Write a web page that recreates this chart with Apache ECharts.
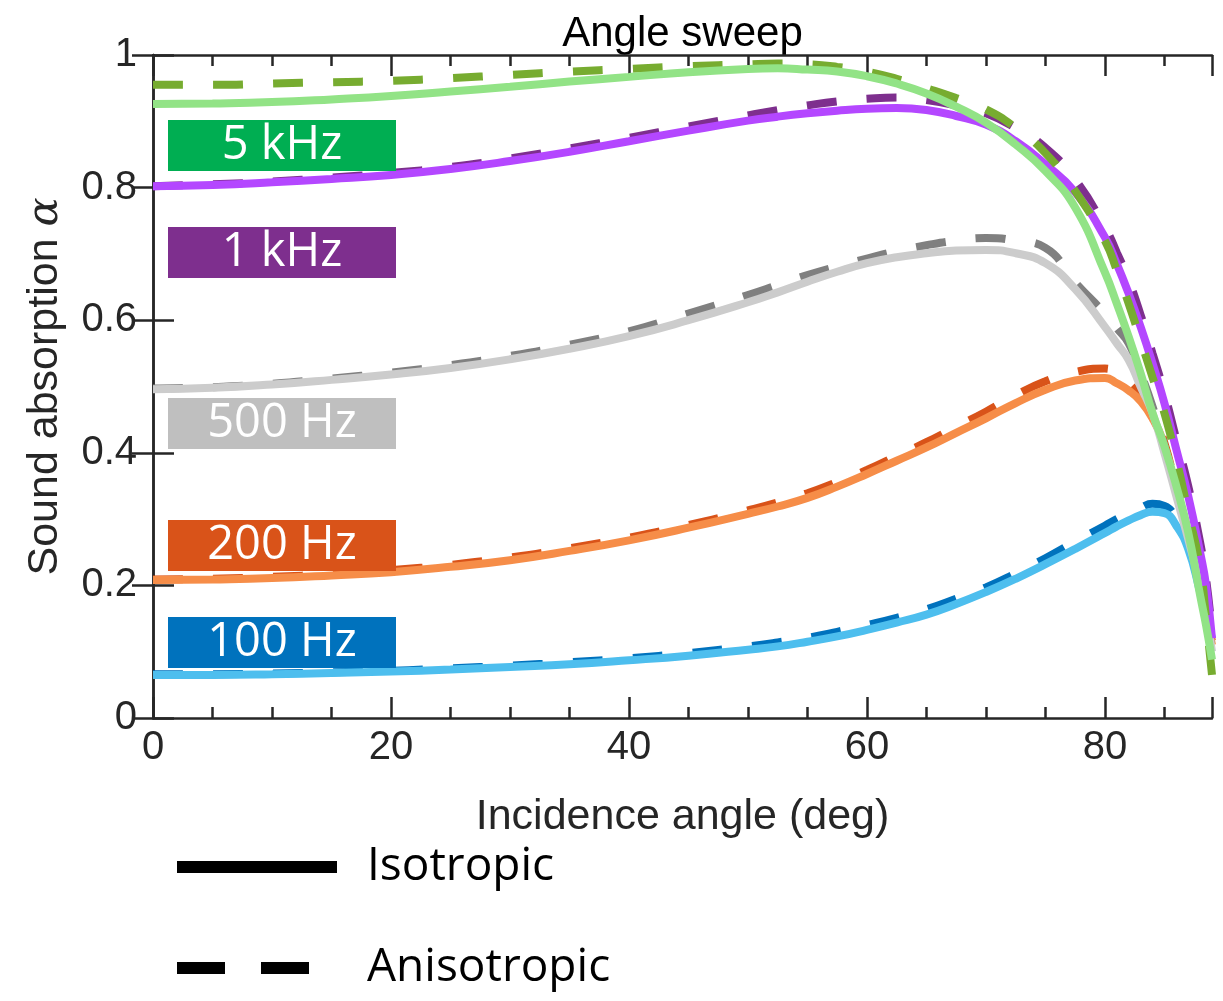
<!DOCTYPE html>
<html>
<head>
<meta charset="utf-8">
<title>Angle sweep</title>
<script src="https://cdn.jsdelivr.net/npm/echarts@6/dist/echarts.min.js"></script>
<style>
  html, body { margin: 0; padding: 0; background: #fff; }
  #chart { width: 1223px; height: 1001px; }
</style>
</head>
<body>
<div id="chart"></div>
<script>
// Incidence angles (deg) at which the absorption coefficient is sampled
const ANGLES = [0, 5, 10, 15, 20, 25, 30, 35, 40, 45, 50, 52.5, 55, 57.5, 60, 62.5, 65, 67.5, 70, 72.5, 75, 77.5, 80, 81, 82, 83, 84, 85, 86, 87, 88, 88.5, 89];

// 100 Hz
const ISO_100 = [0.065, 0.065, 0.066, 0.068, 0.070, 0.073, 0.077, 0.081, 0.087, 0.094, 0.103, 0.108, 0.115, 0.123, 0.133, 0.144, 0.156, 0.172, 0.190, 0.210, 0.232, 0.255, 0.279, 0.289, 0.298, 0.306, 0.311, 0.309, 0.290, 0.255, 0.190, 0.155, 0.120];
const ANI_100 = [0.066, 0.066, 0.067, 0.069, 0.071, 0.075, 0.079, 0.084, 0.090, 0.098, 0.108, 0.114, 0.121, 0.130, 0.140, 0.151, 0.164, 0.180, 0.197, 0.218, 0.241, 0.266, 0.290, 0.300, 0.309, 0.317, 0.323, 0.320, 0.300, 0.262, 0.195, 0.160, 0.120];
// 200 Hz
const ISO_200 = [0.208, 0.209, 0.211, 0.215, 0.220, 0.228, 0.238, 0.252, 0.268, 0.287, 0.308, 0.319, 0.332, 0.349, 0.368, 0.388, 0.408, 0.430, 0.452, 0.475, 0.495, 0.509, 0.513, 0.505, 0.494, 0.478, 0.452, 0.410, 0.340, 0.275, 0.200, 0.155, 0.110];
const ANI_200 = [0.209, 0.210, 0.213, 0.217, 0.223, 0.231, 0.242, 0.256, 0.272, 0.291, 0.313, 0.325, 0.339, 0.356, 0.374, 0.395, 0.416, 0.439, 0.462, 0.487, 0.508, 0.522, 0.527, 0.520, 0.505, 0.485, 0.460, 0.415, 0.345, 0.280, 0.205, 0.160, 0.115];
// 500 Hz
const ISO_500 = [0.496, 0.498, 0.503, 0.510, 0.518, 0.528, 0.541, 0.557, 0.576, 0.600, 0.627, 0.642, 0.658, 0.673, 0.686, 0.695, 0.701, 0.705, 0.706, 0.701, 0.686, 0.647, 0.590, 0.565, 0.540, 0.500, 0.460, 0.400, 0.335, 0.270, 0.200, 0.155, 0.100];
const ANI_500 = [0.497, 0.499, 0.504, 0.512, 0.521, 0.532, 0.546, 0.563, 0.583, 0.610, 0.638, 0.653, 0.668, 0.681, 0.693, 0.704, 0.713, 0.720, 0.724, 0.720, 0.709, 0.657, 0.610, 0.588, 0.565, 0.520, 0.470, 0.410, 0.340, 0.275, 0.200, 0.155, 0.100];
// 1 kHz
const ISO_1K = [0.802, 0.804, 0.808, 0.813, 0.819, 0.828, 0.840, 0.854, 0.870, 0.886, 0.901, 0.907, 0.912, 0.916, 0.919, 0.920, 0.917, 0.908, 0.895, 0.870, 0.835, 0.793, 0.725, 0.685, 0.640, 0.590, 0.535, 0.475, 0.405, 0.335, 0.250, 0.200, 0.120];
const ANI_1K = [0.802, 0.805, 0.809, 0.815, 0.822, 0.831, 0.844, 0.859, 0.875, 0.892, 0.909, 0.917, 0.924, 0.930, 0.934, 0.936, 0.932, 0.924, 0.912, 0.890, 0.860, 0.812, 0.740, 0.702, 0.660, 0.608, 0.550, 0.490, 0.420, 0.350, 0.265, 0.210, 0.130];
// 5 kHz
const ISO_5K = [0.926, 0.927, 0.929, 0.933, 0.938, 0.945, 0.952, 0.960, 0.967, 0.974, 0.979, 0.980, 0.978, 0.975, 0.968, 0.957, 0.942, 0.922, 0.898, 0.865, 0.825, 0.770, 0.672, 0.625, 0.575, 0.520, 0.460, 0.410, 0.350, 0.280, 0.185, 0.140, 0.088];
const ANI_5K = [0.955, 0.955, 0.957, 0.959, 0.961, 0.965, 0.970, 0.975, 0.979, 0.983, 0.986, 0.987, 0.986, 0.982, 0.975, 0.964, 0.950, 0.935, 0.918, 0.890, 0.852, 0.795, 0.720, 0.675, 0.625, 0.570, 0.514, 0.460, 0.390, 0.310, 0.228, 0.150, 0.065];

// Axis ranges and tick labels
const X_RANGE = [0, 89];
const X_LABELS = [0, 20, 40, 60, 80];
const Y_RANGE = [0, 1];
const Y_LABELS = [0, 0.2, 0.4, 0.6, 0.8, 1];

// Frequency groups, drawn from low to high so the high bands sit on top
const BANDS = [
  { label: '100 Hz', iso: ISO_100, ani: ANI_100, isoColor: '#4DBEEE', aniColor: '#0072BD', tagColor: '#0072BD', tagY: 617 },
  { label: '200 Hz', iso: ISO_200, ani: ANI_200, isoColor: '#F68D48', aniColor: '#D95319', tagColor: '#D95319', tagY: 520 },
  { label: '500 Hz', iso: ISO_500, ani: ANI_500, isoColor: '#CCCCCC', aniColor: '#808080', tagColor: '#BFBFBF', tagY: 398 },
  { label: '1 kHz',  iso: ISO_1K,  ani: ANI_1K,  isoColor: '#B447FF', aniColor: '#7E2F8E', tagColor: '#7E2F8E', tagY: 227 },
  { label: '5 kHz',  iso: ISO_5K,  ani: ANI_5K,  isoColor: '#92E386', aniColor: '#77AC30', tagColor: '#00AE52', tagY: 120 }
];

const AXIS_COLOR = '#262626';
const SANS = '"Liberation Sans", Arial, sans-serif';
const ROUND = '"Open Sans", "Lato", sans-serif';
const LINE_W = 8;

const pairs = ys => ANGLES.map((a, i) => [a, ys[i]]);

const series = [];
BANDS.forEach(b => {
  series.push({
    name: b.label + ' anisotropic', type: 'line', data: pairs(b.ani),
    showSymbol: false, symbol: 'none', smooth: 0.5,
    lineStyle: { color: b.aniColor, width: LINE_W, type: [30, 30], cap: 'butt' },
    itemStyle: { color: b.aniColor }, silent: true, animation: false
  });
  series.push({
    name: b.label + ' isotropic', type: 'line', data: pairs(b.iso),
    showSymbol: false, symbol: 'none', smooth: 0.5,
    lineStyle: { color: b.isoColor, width: LINE_W, type: 'solid' },
    itemStyle: { color: b.isoColor }, silent: true, animation: false
  });
});
// Style key entries (no data of their own)
series.push({ name: 'Isotropic', type: 'line', data: [], symbol: 'none', symbolSize: 0, showSymbol: false,
  lineStyle: { color: '#000', width: 12, type: 'solid' }, itemStyle: { color: '#000' } });
series.push({ name: 'Anisotropic', type: 'line', data: [], symbol: 'none', symbolSize: 0, showSymbol: false,
  lineStyle: { color: '#000', width: 12, type: [48, 36] }, itemStyle: { color: '#000' } });

const axisLine = { show: true, lineStyle: { color: AXIS_COLOR, width: 2.5 } };
const tickStyle = { color: AXIS_COLOR, width: 2.5 };

const xBase = { type: 'value', min: X_RANGE[0], max: X_RANGE[1], splitLine: { show: false } };
const yBase = { type: 'value', min: Y_RANGE[0], max: Y_RANGE[1], interval: 0.2, splitLine: { show: false } };

// Tag boxes naming each frequency band
const graphic = [];
BANDS.forEach(b => {
  graphic.push({ type: 'rect', shape: { x: 168, y: b.tagY, width: 228, height: 51 },
    style: { fill: b.tagColor }, silent: true, z: 10 });
  graphic.push({ type: 'text', x: 282, y: b.tagY + 26, z: 11, silent: true,
    style: { text: b.label, fill: '#fff', fontSize: 47, fontFamily: ROUND,
      align: 'center', verticalAlign: 'middle' } });
});

const chart = echarts.init(document.getElementById('chart'), null, { renderer: 'canvas' });
chart.setOption({
  animation: false,
  backgroundColor: '#fff',
  grid: { left: 153, right: 11, top: 55, bottom: 283, containLabel: false },
  xAxis: [
    Object.assign({}, xBase, {
      position: 'bottom', interval: 20,
      axisLine, axisTick: { show: true, inside: true, length: 21, lineStyle: tickStyle },
      axisLabel: { show: true, margin: 10, color: AXIS_COLOR, fontSize: 40, fontFamily: SANS,
        formatter: v => (X_LABELS.indexOf(v) >= 0 ? String(v) : '') },
      name: 'Incidence angle (deg)', nameLocation: 'middle', nameGap: 78,
      nameTextStyle: { color: AXIS_COLOR, fontSize: 43, fontFamily: SANS }
    }),
    Object.assign({}, xBase, {
      position: 'bottom', interval: 5,
      axisLine: { show: false }, axisTick: { show: true, inside: true, length: 11, lineStyle: tickStyle },
      axisLabel: { show: false }
    }),
    Object.assign({}, xBase, {
      position: 'top', interval: 20,
      axisLine, axisTick: { show: true, inside: true, length: 21, lineStyle: tickStyle },
      axisLabel: { show: false },
      name: 'Angle sweep', nameLocation: 'middle', nameGap: 0,
      nameTextStyle: { color: '#000', fontSize: 42, fontFamily: SANS }
    }),
    Object.assign({}, xBase, {
      position: 'top', interval: 5,
      axisLine: { show: false }, axisTick: { show: true, inside: true, length: 11, lineStyle: tickStyle },
      axisLabel: { show: false }
    })
  ],
  yAxis: [
    Object.assign({}, yBase, {
      position: 'left',
      axisLine, axisTick: { show: true, inside: true, length: 21, lineStyle: tickStyle },
      axisLabel: { show: true, margin: 16, color: AXIS_COLOR, fontSize: 40, fontFamily: SANS,
        formatter: v => {
          const hit = Y_LABELS.find(t => Math.abs(t - v) < 1e-9);
          return hit === undefined ? '' : String(hit);
        } },
      name: 'Sound absorption {a|α}', nameLocation: 'middle', nameGap: 86,
      nameTextStyle: { color: AXIS_COLOR, fontSize: 43, fontFamily: SANS,
        rich: { a: { fontSize: 43, fontFamily: '"DejaVu Serif", serif', fontStyle: 'italic', color: AXIS_COLOR } } }
    }),
    Object.assign({}, yBase, {
      position: 'right',
      axisLine, axisTick: { show: true, inside: true, length: 21, lineStyle: tickStyle },
      axisLabel: { show: false }
    })
  ],
  legend: {
    orient: 'vertical', left: 171, top: 844, padding: 0,
    itemWidth: 160, itemHeight: 13, itemGap: 55,
    selectedMode: false,
    data: [
      { name: 'Isotropic' },
      { name: 'Anisotropic', lineStyle: { type: [48, 36] } }
    ],
    itemStyle: { opacity: 0, borderWidth: 0 },
    lineStyle: { width: 12 },
    textStyle: { color: '#000', fontSize: 46, fontFamily: ROUND, padding: [0, 0, 0, 25] }
  },
  series,
  graphic
});
</script>
</body>
</html>
